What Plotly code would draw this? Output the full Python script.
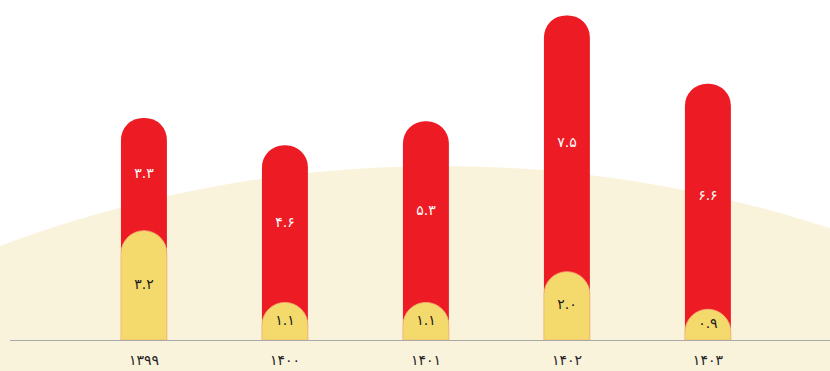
import plotly.graph_objects as go

years = ["۱۳۹۹", "۱۴۰۰", "۱۴۰۱", "۱۴۰۲", "۱۴۰۳"]
red_values = [3.3, 4.6, 5.3, 7.5, 6.6]
yellow_values = [3.2, 1.1, 1.1, 2.0, 0.9]

fa_digits = str.maketrans("0123456789", "۰۱۲۳۴۵۶۷۸۹")


def fa(v):
    return f"{v:.1f}".translate(fa_digits)


x = list(range(len(years)))
totals = [r + y for r, y in zip(red_values, yellow_values)]

RED = "#ED1C24"
YELLOW = "#F4D96C"
CREAM = "#FAF3DC"
FONT = "DejaVu Sans"
YMAX = 9.95

fig = go.Figure()

# total (red) bar on the base axes
fig.add_trace(go.Bar(
    x=x, y=totals, width=0.326, yaxis="y",
    marker=dict(color=RED, cornerradius="50%", line=dict(width=0)),
    hoverinfo="skip", showlegend=False,
))
# yellow bar on an overlaying axis so it gets its own rounded top
fig.add_trace(go.Bar(
    x=x, y=yellow_values, width=0.326, yaxis="y2",
    marker=dict(color=YELLOW, cornerradius="50%", line=dict(width=0.8, color="#F3B57A")),
    hoverinfo="skip", showlegend=False,
))

# labels
fig.add_trace(go.Scatter(
    x=x, y=[yv + rv / 2 for yv, rv in zip(yellow_values, red_values)], yaxis="y2",
    mode="text", text=[fa(v) for v in red_values],
    textfont=dict(family=FONT, size=14, color="white"),
    hoverinfo="skip", showlegend=False,
))
fig.add_trace(go.Scatter(
    x=x, y=[yv / 2 for yv in yellow_values], yaxis="y2",
    mode="text", text=[fa(v) for v in yellow_values],
    textfont=dict(family=FONT, size=14, color="#1a1a1a"),
    hoverinfo="skip", showlegend=False,
))

# cream background arc
fig.add_shape(
    type="circle", xref="paper", yref="paper", layer="below",
    x0=-1.0, x1=2.049, y0=-6.84, y1=0.512,
    fillcolor=CREAM, line=dict(width=0),
)

fig.update_layout(
    width=830, height=371,
    margin=dict(l=10, r=0, t=0, b=31),
    paper_bgcolor="white", plot_bgcolor="rgba(0,0,0,0)",
    barmode="overlay",
    xaxis=dict(
        range=[-0.950, 4.866], tickvals=x, ticktext=years,
        showgrid=False, zeroline=False, showline=True,
        linecolor="#A9A9A9", linewidth=1, ticks="",
        ticklabelstandoff=7,
        tickfont=dict(family=FONT, size=14, color="#222222"),
        fixedrange=True,
    ),
    yaxis=dict(
        range=[0, YMAX], visible=False, showgrid=False, zeroline=False,
        fixedrange=True,
    ),
    yaxis2=dict(
        range=[0, YMAX], visible=False, showgrid=False, zeroline=False,
        overlaying="y", fixedrange=True,
    ),
)

fig.write_html(
    "out.html",
    config={"displayModeBar": False},
    post_script="document.body.style.margin='0';document.body.style.overflow='hidden';",
)
